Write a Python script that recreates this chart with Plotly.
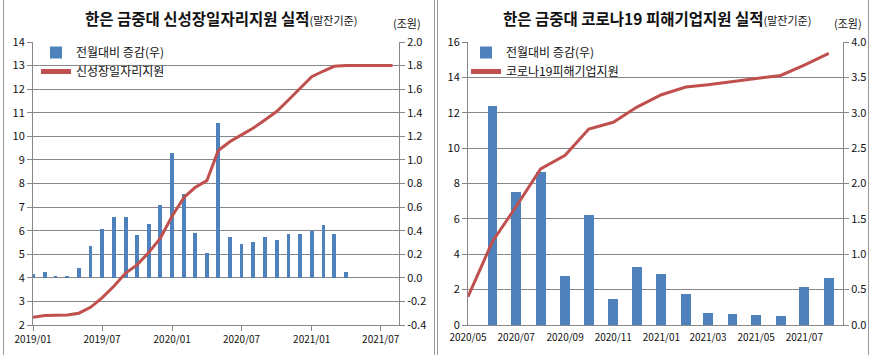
import pandas as pd
import plotly.graph_objects as go

# ---------------- data ----------------
left_months = pd.date_range("2019-01-01", "2021-08-01", freq="MS")
left_line = [2.33, 2.40, 2.41, 2.42, 2.50, 2.75, 3.15, 3.64, 4.20, 4.55, 5.08, 5.68,
             6.62, 7.41, 7.83, 8.12, 9.40, 9.78, 10.06, 10.35, 10.70, 11.05, 11.54, 12.04,
             12.53, 12.77, 12.97, 13.00, 13.00, 13.00, 13.00, 13.00]
left_bar_months = left_months[:28]
left_bars = [0.034, 0.05, 0.017, 0.008, 0.085, 0.266, 0.41, 0.52, 0.52, 0.365, 0.46, 0.62,
             1.06, 0.71, 0.38, 0.21, 1.31, 0.35, 0.29, 0.30, 0.35, 0.32, 0.37, 0.37,
             0.40, 0.45, 0.37, 0.05]

right_months = pd.date_range("2020-05-01", "2021-08-01", freq="MS")
right_line = [1.60, 4.72, 6.70, 8.83, 9.60, 11.08, 11.46, 12.32, 13.02, 13.45, 13.58,
              13.77, 13.92, 14.11, 14.69, 15.36]
right_bar_months = right_months[1:]
right_bars = [3.10, 1.88, 2.16, 0.69, 1.56, 0.37, 0.82, 0.72, 0.44, 0.17, 0.16, 0.14,
              0.13, 0.54, 0.67]

left_right_ticks = [-0.4, -0.2, 0.0, 0.2, 0.4, 0.6, 0.8, 1.0, 1.2, 1.4, 1.6, 1.8, 2.0]
left_right_ticktext = ["-0.4", "-0.2", "0.0", "0.2", "0.4", "0.6", "0.8", "1.0", "1.2",
                       "1.4", "1.6", "1.8", "2.0"]

left_title = "한은 금중대 신성장일자리지원 실적"
right_title = "한은 금중대 코로나19 피해기업지원 실적"
sub_title = "(말잔기준)"
unit_label = "(조원)"
bar_name = "전월대비 증감(우)"
left_line_name = "신성장일자리지원"
right_line_name = "코로나19피해기업지원"

# ---------------- style ----------------
W, H = 870, 355
BLUE = "#4F81BD"
RED = "#C0504D"
GRID = "#878787"
FONT = "Noto Sans CJK KR, Noto Sans, sans-serif"
TICKFONT = dict(family=FONT, size=11, color="#111111")

def px_x(v):
    return v / W

def px_y(v):
    return (H - v) / H

fig = go.Figure()

# left chart
fig.add_trace(go.Bar(x=left_bar_months, y=left_bars, name=bar_name, marker_color=BLUE,
                     marker_line_width=0, width=10 * 86400000, xaxis="x", yaxis="y",
                     legend="legend"))
fig.add_trace(go.Scatter(x=left_months, y=left_line, name=left_line_name, mode="lines",
                         line=dict(color=RED, width=3), xaxis="x", yaxis="y2",
                         legend="legend"))
# right chart
fig.add_trace(go.Bar(x=right_bar_months, y=right_bars, name=bar_name, marker_color=BLUE,
                     marker_line_width=0, width=12.5 * 86400000, xaxis="x2", yaxis="y3",
                     legend="legend2"))
fig.add_trace(go.Scatter(x=right_months, y=right_line, name=right_line_name, mode="lines",
                         line=dict(color=RED, width=3), xaxis="x2", yaxis="y4",
                         legend="legend2"))

ydom = [px_y(325), px_y(42)]
common_x = dict(type="date", tickformat="%Y/%m", showgrid=False, showline=True,
                linecolor=GRID, linewidth=1, tickfont=dict(family=FONT, size=10, color="#111111"),
                zeroline=False, fixedrange=True, automargin=False)
common_y = dict(showline=True, linecolor=GRID, linewidth=1, ticks="outside", ticklen=5,
                tickcolor=GRID, tickfont=TICKFONT, zeroline=False, fixedrange=True,
                automargin=False)

fig.update_layout(
    width=W, height=H,
    margin=dict(l=0, r=0, t=0, b=0, autoexpand=False),
    paper_bgcolor="white", plot_bgcolor="white",
    bargap=0,
    font=dict(family=FONT, size=12, color="#111111"),
    xaxis=dict(domain=[px_x(33), px_x(399)], range=["2019-01-01", "2021-08-18"],
               tick0="2019-01-01", dtick="M6", ticks="outside", ticklen=5, tickcolor=GRID,
               anchor="y", **common_x),
    yaxis=dict(domain=ydom, side="right", range=[-0.4, 2.0], tickvals=left_right_ticks,
               ticktext=left_right_ticktext, showgrid=True, gridcolor=GRID, gridwidth=1,
               anchor="x", **common_y),
    yaxis2=dict(overlaying="y", side="left", range=[2, 14], dtick=1, showgrid=False,
                anchor="x", **common_y),
    xaxis2=dict(domain=[px_x(468), px_x(843)], range=["2020-05-01", "2021-08-19"],
                tick0="2020-05-01", dtick="M2", ticks="", ticklabelstandoff=3,
                anchor="y3", **common_x),
    yaxis3=dict(domain=ydom, side="right", range=[0, 4], dtick=0.5, tickformat=".1f",
                showgrid=True, gridcolor=GRID, gridwidth=1, anchor="x2", **common_y),
    yaxis4=dict(overlaying="y3", side="left", range=[0, 16], dtick=2, showgrid=False,
                anchor="x2", **common_y),
    legend=dict(x=px_x(36), y=px_y(38), xanchor="left", yanchor="top",
                bgcolor="rgba(0,0,0,0)", font=dict(family=FONT, size=12, color="#111111"),
                tracegroupgap=0, itemsizing="constant"),
    legend2=dict(x=px_x(466), y=px_y(38), xanchor="left", yanchor="top",
                 bgcolor="rgba(0,0,0,0)", font=dict(family=FONT, size=12, color="#111111"),
                 tracegroupgap=0, itemsizing="constant"),
)

annotations = [
    dict(x=px_x(221), y=px_y(18), xref="paper", yref="paper", xanchor="center",
         yanchor="middle", showarrow=False,
         text=f"<b>{left_title}</b><span style='font-size:11px'>{sub_title}</span>",
         font=dict(family=FONT, size=15.5, color="#111111")),
    dict(x=px_x(657), y=px_y(18), xref="paper", yref="paper", xanchor="center",
         yanchor="middle", showarrow=False,
         text=f"<b>{right_title}</b><span style='font-size:11px'>{sub_title}</span>",
         font=dict(family=FONT, size=15.5, color="#111111")),
    dict(x=px_x(407), y=px_y(23), xref="paper", yref="paper", xanchor="center",
         yanchor="middle", showarrow=False, text=unit_label,
         font=dict(family=FONT, size=11, color="#111111")),
    dict(x=px_x(848), y=px_y(23), xref="paper", yref="paper", xanchor="center",
         yanchor="middle", showarrow=False, text=unit_label,
         font=dict(family=FONT, size=11, color="#111111")),
]
fig.update_layout(annotations=annotations)

frame_x = [3.5, 434.5, 437.5, 868.5]
fig.update_layout(shapes=[
    dict(type="line", xref="paper", yref="paper", x0=px_x(v), x1=px_x(v), y0=0, y1=1,
         line=dict(color="#9a9a9a", width=1)) for v in frame_x
])

fig.write_html("out.html",
               config={"displayModeBar": False},
               post_script="document.body.style.margin='0';document.body.style.padding='0';")
